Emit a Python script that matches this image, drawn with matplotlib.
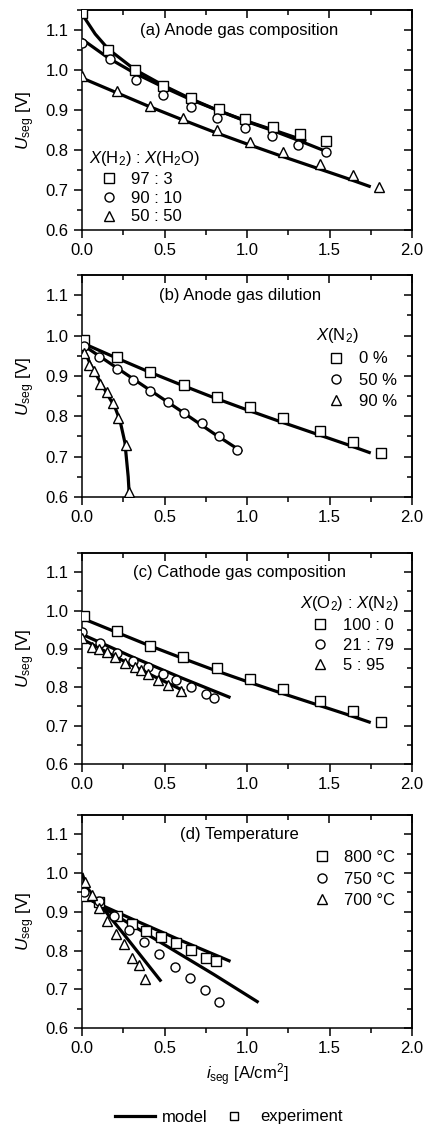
import matplotlib
matplotlib.use('Agg')
import matplotlib.pyplot as plt
from matplotlib.ticker import MultipleLocator
from matplotlib.lines import Line2D

plt.rcParams['font.family'] = ['Liberation Sans', 'DejaVu Sans']
plt.rcParams['mathtext.fontset'] = 'custom'
plt.rcParams['mathtext.rm'] = 'Liberation Sans'
plt.rcParams['mathtext.it'] = 'Liberation Sans:italic'
plt.rcParams['font.size'] = 12

# (a) anode gas composition  X(H2):X(H2O)
a_exp_x_97 = [0.0, 0.16, 0.32, 0.49, 0.66, 0.83, 0.99, 1.16, 1.32, 1.48]
a_exp_y_97 = [1.143, 1.050, 1.000, 0.961, 0.930, 0.903, 0.878, 0.858, 0.840, 0.822]
a_exp_x_90 = [0.0, 0.17, 0.33, 0.49, 0.66, 0.82, 0.99, 1.15, 1.31, 1.48]
a_exp_y_90 = [1.068, 1.028, 0.974, 0.938, 0.907, 0.880, 0.855, 0.835, 0.813, 0.796]
a_exp_x_50 = [0.0, 0.21, 0.41, 0.61, 0.82, 1.02, 1.22, 1.44, 1.64, 1.80]
a_exp_y_50 = [0.986, 0.948, 0.909, 0.879, 0.849, 0.821, 0.795, 0.764, 0.737, 0.708]

a_mod_x_97 = [0.0, 0.08, 0.16, 0.32, 0.50, 0.66, 0.83, 1.00, 1.16, 1.36]
a_mod_y_97 = [1.140, 1.090, 1.052, 1.001, 0.960, 0.928, 0.898, 0.872, 0.850, 0.822]
a_mod_x_90 = [0.0, 0.16, 0.32, 0.50, 0.66, 0.83, 1.00, 1.16, 1.30, 1.47]
a_mod_y_90 = [1.077, 1.030, 0.992, 0.956, 0.926, 0.898, 0.871, 0.848, 0.826, 0.798]
a_mod_x_50 = [0.0, 0.2, 0.4, 0.6, 0.8, 1.0, 1.2, 1.4, 1.6, 1.75]
a_mod_y_50 = [0.980, 0.945, 0.910, 0.877, 0.845, 0.815, 0.786, 0.758, 0.730, 0.708]

# (b) anode gas dilution  X(N2)
b_exp_x_0 = [0.01, 0.21, 0.41, 0.62, 0.82, 1.02, 1.22, 1.44, 1.64, 1.81]
b_exp_y_0 = [0.988, 0.946, 0.909, 0.878, 0.848, 0.822, 0.795, 0.764, 0.737, 0.709]
b_exp_x_50 = [0.01, 0.10, 0.21, 0.31, 0.41, 0.52, 0.62, 0.73, 0.83, 0.94]
b_exp_y_50 = [0.975, 0.947, 0.918, 0.891, 0.862, 0.835, 0.808, 0.783, 0.752, 0.716]
b_exp_x_90 = [0.01, 0.04, 0.075, 0.11, 0.15, 0.19, 0.22, 0.265, 0.285]
b_exp_y_90 = [0.957, 0.928, 0.912, 0.879, 0.859, 0.833, 0.796, 0.729, 0.613]

b_mod_x_0 = [0.0, 0.2, 0.4, 0.6, 0.8, 1.0, 1.2, 1.4, 1.6, 1.75]
b_mod_y_0 = [0.982, 0.946, 0.911, 0.878, 0.846, 0.816, 0.787, 0.759, 0.731, 0.709]
b_mod_x_50 = [0.0, 0.2, 0.4, 0.6, 0.8, 0.97]
b_mod_y_50 = [0.978, 0.923, 0.868, 0.813, 0.757, 0.712]
b_mod_x_90 = [0.0, 0.05, 0.10, 0.15, 0.20, 0.23, 0.26, 0.28, 0.287]
b_mod_y_90 = [0.975, 0.930, 0.893, 0.857, 0.822, 0.790, 0.735, 0.650, 0.600]

# (c) cathode gas composition  X(O2):X(N2)
c_exp_x_100 = [0.01, 0.21, 0.41, 0.61, 0.82, 1.02, 1.22, 1.44, 1.64, 1.81]
c_exp_y_100 = [0.985, 0.946, 0.908, 0.879, 0.849, 0.822, 0.795, 0.764, 0.737, 0.709]
c_exp_x_21 = [0.0, 0.11, 0.21, 0.31, 0.40, 0.49, 0.57, 0.66, 0.75, 0.80]
c_exp_y_21 = [0.945, 0.916, 0.890, 0.868, 0.852, 0.835, 0.818, 0.802, 0.783, 0.773]
c_exp_x_5 = [0.0, 0.06, 0.10, 0.15, 0.20, 0.26, 0.32, 0.36, 0.40, 0.46, 0.52, 0.60]
c_exp_y_5 = [0.928, 0.905, 0.900, 0.893, 0.878, 0.864, 0.852, 0.845, 0.835, 0.820, 0.806, 0.790]

c_mod_x_100 = [0.0, 0.2, 0.4, 0.6, 0.8, 1.0, 1.2, 1.4, 1.6, 1.75]
c_mod_y_100 = [0.980, 0.945, 0.910, 0.877, 0.845, 0.815, 0.786, 0.758, 0.730, 0.708]
c_mod_x_21 = [0.0, 0.3, 0.6, 0.9]
c_mod_y_21 = [0.938, 0.880, 0.825, 0.773]
c_mod_x_5 = [0.0, 0.2, 0.4, 0.62]
c_mod_y_5 = [0.926, 0.880, 0.836, 0.790]

# (d) temperature
d_exp_x_800 = [0.02, 0.10, 0.21, 0.30, 0.39, 0.48, 0.57, 0.66, 0.75, 0.81]
d_exp_y_800 = [0.942, 0.926, 0.889, 0.869, 0.850, 0.834, 0.819, 0.801, 0.782, 0.773]
d_exp_x_750 = [0.01, 0.10, 0.196, 0.285, 0.378, 0.469, 0.564, 0.655, 0.745, 0.832]
d_exp_y_750 = [0.950, 0.927, 0.889, 0.854, 0.821, 0.792, 0.757, 0.728, 0.699, 0.667]
d_exp_x_700 = [0.018, 0.059, 0.103, 0.153, 0.204, 0.255, 0.301, 0.347, 0.382]
d_exp_y_700 = [0.976, 0.943, 0.910, 0.877, 0.844, 0.817, 0.782, 0.762, 0.726]

d_mod_x_800 = [0.0, 0.3, 0.6, 0.9]
d_mod_y_800 = [0.940, 0.882, 0.826, 0.772]
d_mod_x_750 = [0.0, 0.16, 0.5, 0.8, 1.07]
d_mod_y_750 = [0.946, 0.902, 0.815, 0.738, 0.666]
d_mod_x_700 = [0.0, 0.03, 0.08, 0.15, 0.25, 0.35, 0.48]
d_mod_y_700 = [1.000, 0.963, 0.935, 0.897, 0.844, 0.790, 0.720]

panels = [
    {
        'title': '(a) Anode gas composition',
        'leg_title': r'$X$(H$_2$) : $X$(H$_2$O)',
        'labels': ['97 : 3', '90 : 10', '50 : 50'],
        'exp': [(a_exp_x_97, a_exp_y_97), (a_exp_x_90, a_exp_y_90), (a_exp_x_50, a_exp_y_50)],
        'mod': [(a_mod_x_97, a_mod_y_97), (a_mod_x_90, a_mod_y_90), (a_mod_x_50, a_mod_y_50)],
        'leg_loc': 'lower left', 'leg_anchor': (0.01, 0.01), 'spacing': 0.22,
    },
    {
        'title': '(b) Anode gas dilution',
        'leg_title': r'$X$(N$_2$)',
        'labels': ['0 %', '50 %', '90 %'],
        'exp': [(b_exp_x_0, b_exp_y_0), (b_exp_x_50, b_exp_y_50), (b_exp_x_90, b_exp_y_90)],
        'mod': [(b_mod_x_0, b_mod_y_0), (b_mod_x_50, b_mod_y_50), (b_mod_x_90, b_mod_y_90)],
        'leg_loc': 'upper right', 'leg_anchor': (0.965, 0.785), 'spacing': 0.38,
    },
    {
        'title': '(c) Cathode gas composition',
        'leg_title': r'$X$(O$_2$) : $X$(N$_2$)',
        'labels': ['100 : 0', '21 : 79', '5 : 95'],
        'exp': [(c_exp_x_100, c_exp_y_100), (c_exp_x_21, c_exp_y_21), (c_exp_x_5, c_exp_y_5)],
        'mod': [(c_mod_x_100, c_mod_y_100), (c_mod_x_21, c_mod_y_21), (c_mod_x_5, c_mod_y_5)],
        'leg_loc': 'upper right', 'leg_anchor': (0.97, 0.82), 'spacing': 0.3,
    },
    {
        'title': '(d) Temperature',
        'leg_title': None,
        'labels': ['800 °C', '750 °C', '700 °C'],
        'exp': [(d_exp_x_800, d_exp_y_800), (d_exp_x_750, d_exp_y_750), (d_exp_x_700, d_exp_y_700)],
        'mod': [(d_mod_x_800, d_mod_y_800), (d_mod_x_750, d_mod_y_750), (d_mod_x_700, d_mod_y_700)],
        'leg_loc': 'upper right', 'leg_anchor': (0.96, 0.85), 'spacing': 0.38,
    },
]

markers = ['s', 'o', '^']

fig = plt.figure(figsize=(4.25, 11.28), dpi=100)

# axes boxes in figure pixels: (top, bottom)
boxes = [(10, 230), (275, 497), (553, 764), (815, 1028)]
W, H = 425, 1128
left, right = 82, 412

for p, (top, bot) in zip(panels, boxes):
    ax = fig.add_axes([left / W, 1 - bot / H, (right - left) / W, (bot - top) / H])

    for x, y in p['mod']:
        ax.plot(x, y, color='black', lw=2.3, solid_capstyle='butt', zorder=2)
    handles = []
    for (x, y), m, lab in zip(p['exp'], markers, p['labels']):
        h, = ax.plot(x, y, ls='none', marker=m, ms=6.5 if m != '^' else 7.2,
                     mfc='white', mec='black', mew=1.0, zorder=3, label=lab)
        handles.append(h)

    ax.set_xlim(0, 2.0)
    ax.set_ylim(0.6, 1.15)
    ax.xaxis.set_major_locator(MultipleLocator(0.5))
    ax.xaxis.set_minor_locator(MultipleLocator(0.25))
    ax.yaxis.set_major_locator(MultipleLocator(0.1))
    ax.yaxis.set_minor_locator(MultipleLocator(0.05))
    ax.xaxis.set_major_formatter('{x:.1f}')
    ax.yaxis.set_major_formatter('{x:.1f}')
    ax.tick_params(which='both', direction='out', width=1.1, top=False, right=False,
                   labelsize=12)
    ax.tick_params(which='major', length=6)
    ax.tick_params(which='minor', length=3.5)
    for s in ax.spines.values():
        s.set_linewidth(1.1)

    # opposite axes: ticks pointing into the plot
    sx = ax.secondary_xaxis('top')
    sx.xaxis.set_major_locator(MultipleLocator(0.5))
    sx.xaxis.set_minor_locator(MultipleLocator(0.25))
    sx.tick_params(which='both', direction='in', width=1.1, labeltop=False)
    sx.tick_params(which='major', length=6)
    sx.tick_params(which='minor', length=3.5)
    sy = ax.secondary_yaxis('right')
    sy.yaxis.set_major_locator(MultipleLocator(0.1))
    sy.yaxis.set_minor_locator(MultipleLocator(0.05))
    sy.tick_params(which='both', direction='in', width=1.1, labelright=False)
    sy.tick_params(which='major', length=6)
    sy.tick_params(which='minor', length=3.5)
    for s in list(sx.spines.values()) + list(sy.spines.values()):
        s.set_linewidth(1.1)

    ax.set_ylabel(r'$U_\mathrm{seg}$ [V]', fontsize=12.5, labelpad=6)
    ax.text(0.955, 1.1, p['title'], ha='center', va='center', fontsize=12)

    ax.legend(handles=handles, title=p['leg_title'], loc=p['leg_loc'],
              bbox_to_anchor=p['leg_anchor'], frameon=False, fontsize=12,
              title_fontsize=12, handlelength=2.4, handletextpad=0.15,
              labelspacing=p['spacing'], borderpad=0.2, borderaxespad=0.0,
              alignment='left')

ax.set_xlabel(r'$i_\mathrm{seg}$ [A/cm$^2$]', fontsize=12, labelpad=4)

# figure legend at the bottom
h_model = Line2D([], [], color='black', lw=2.3)
h_exp = Line2D([], [], ls='none', marker='s', ms=6, mfc='white', mec='black', mew=1.0)
fig.legend([h_model, h_exp], ['model', 'experiment'], loc='center',
           bbox_to_anchor=(0.539, 1 - 1117 / H), ncol=2, frameon=False,
           fontsize=12, handlelength=2.4, handletextpad=0.4, columnspacing=0.35)

fig.savefig('out.png', dpi=100)
